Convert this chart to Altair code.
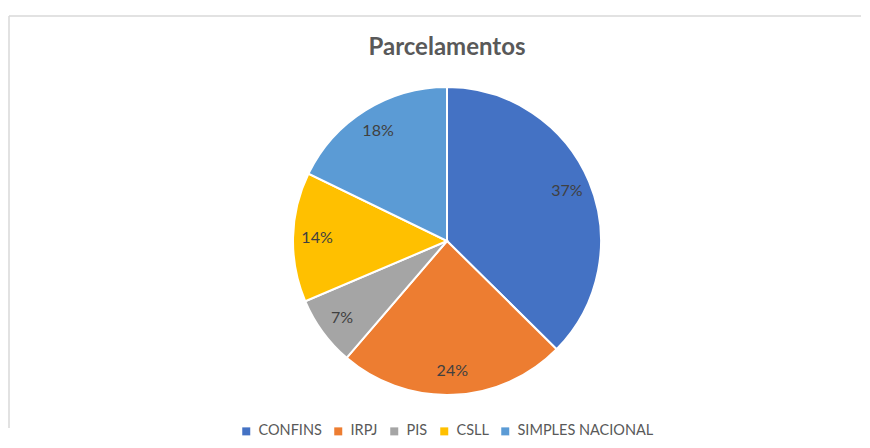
import altair as alt
import pandas as pd

categories = ["CONFINS", "IRPJ", "PIS", "CSLL", "SIMPLES NACIONAL"]
values = [37.4, 23.9, 7.3, 13.6, 17.8]
colors = ["#4472C4", "#ED7D31", "#A5A5A5", "#FFC000", "#5B9BD5"]
title_text = "Parcelamentos"

df = pd.DataFrame({"categoria": categories, "valor": values,
                   "ordem": list(range(len(categories)))})

W, H = 852, 412
cx, cy = 438, 225
R = 154

base = alt.Chart(df).transform_joinaggregate(
    total="sum(valor)"
).transform_calculate(
    frac="datum.valor / datum.total"
).encode(
    theta=alt.Theta("valor:Q", stack=True),
    order=alt.Order("ordem:Q"),
)

pie = base.mark_arc(outerRadius=R, stroke="white", strokeWidth=2).encode(
    x=alt.value(cx), y=alt.value(cy),
    color=alt.Color(
        "categoria:N",
        scale=alt.Scale(domain=categories, range=colors),
        legend=alt.Legend(
            orient="none", direction="horizontal", legendX=230, legendY=408,
            title=None, symbolType="square", symbolSize=64,
            labelFont="Lato", labelFontSize=14.5, labelColor="#595959",
            columnPadding=9, labelOffset=5, symbolStrokeWidth=0,
        ),
    ),
)

labels = base.mark_text(radius=130, font="Lato", fontSize=16, color="#404040").encode(
    x=alt.value(cx), y=alt.value(cy),
    text=alt.Text("frac:Q", format=".0%"),
)

title = alt.Chart(pd.DataFrame({"t": [title_text]})).mark_text(
    font="Lato", fontSize=24, fontWeight="bold", color="#595959", baseline="middle"
).encode(text="t:N", x=alt.value(cx), y=alt.value(32))

border_top = alt.Chart(pd.DataFrame({"a": [0]})).mark_rule(color="#d9d9d9", strokeWidth=1.5).encode(
    x=alt.value(0), x2=alt.value(W), y=alt.value(0))
border_left = alt.Chart(pd.DataFrame({"a": [0]})).mark_rule(color="#d9d9d9", strokeWidth=1.5).encode(
    x=alt.value(0), y=alt.value(0), y2=alt.value(H))

chart = alt.layer(border_top, border_left, title, pie, labels).properties(
    width=W, height=H, background="white",
    padding={"left": 0, "top": 7, "right": 0, "bottom": 0},
).configure_view(stroke=None)

chart.save("out.html", embed_options={"renderer": "svg", "actions": False})
